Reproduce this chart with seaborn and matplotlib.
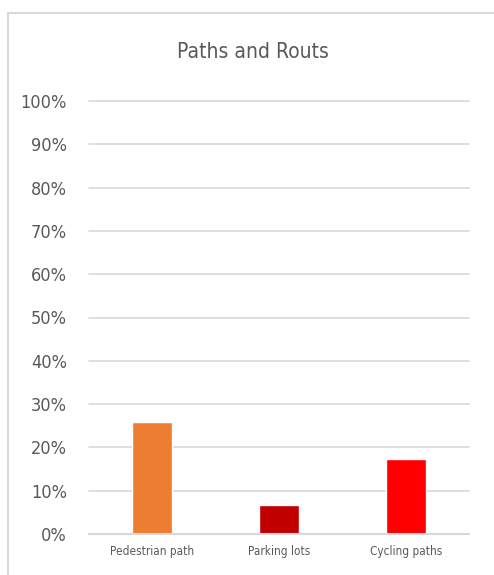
import matplotlib.pyplot as plt
import matplotlib.patches as mpatches
import numpy as np
import pandas as pd
import seaborn as sns

categories = ["Pedestrian path", "Parking lots", "Cycling paths"]
values = [0.259, 0.068, 0.173]
colors = ["#ED7D31", "#C00000", "#FF0000"]
yticks = np.arange(0, 1.01, 0.1)
ytick_labels = [f"{int(round(t * 100))}%" for t in yticks]

df = pd.DataFrame({"category": categories, "value": values})

sns.set_style("white")
plt.rcParams['font.family'] = ['DejaVu Sans']
plt.rcParams['font.stretch'] = 'condensed'

fig = plt.figure(figsize=(4.94, 5.75), dpi=100)
ax = fig.add_axes([89 / 494, 1 - 534 / 575, 380 / 494, 433 / 575])

sns.barplot(data=df, x="category", y="value", hue="category", palette=colors,
            width=0.316, legend=False, ax=ax, saturation=1)

ax.set_ylim(0, 1.0)
ax.set_xlim(-0.5, 2.5)
ax.set_yticks(yticks)
ax.set_yticklabels(ytick_labels)
ax.yaxis.grid(True, color="#D9D9D9", linewidth=1.2)
for gl in ax.get_ygridlines():
    gl.set_clip_on(False)
ax.set_axisbelow(True)
for s in ["top", "right", "left"]:
    ax.spines[s].set_visible(False)
ax.spines["bottom"].set_color("#D9D9D9")
ax.spines["bottom"].set_linewidth(1.5)
ax.tick_params(axis="y", length=0, pad=16, labelsize=13, labelcolor="#595959")
ax.tick_params(axis="x", length=0, pad=8, labelsize=8.5, labelcolor="#595959")
for lbl in ax.get_yticklabels() + ax.get_xticklabels():
    lbl.set_fontstretch("condensed")
ax.set_xlabel("")
ax.set_ylabel("")

fig.text(253 / 494, 1 - 52 / 575, "Paths and Routs", ha="center", va="center",
         fontsize=15, color="#595959", fontstretch="condensed")

# chart frame (cropped on right and bottom)
frame = mpatches.Rectangle((7.5 / 494, -0.1), 1.2, 1 - 12.5 / 575 + 0.1,
                           transform=fig.transFigure, fill=False,
                           edgecolor="#D9D9D9", linewidth=1.5, clip_on=False)
fig.patches.append(frame)

fig.savefig("out.png", dpi=100)
